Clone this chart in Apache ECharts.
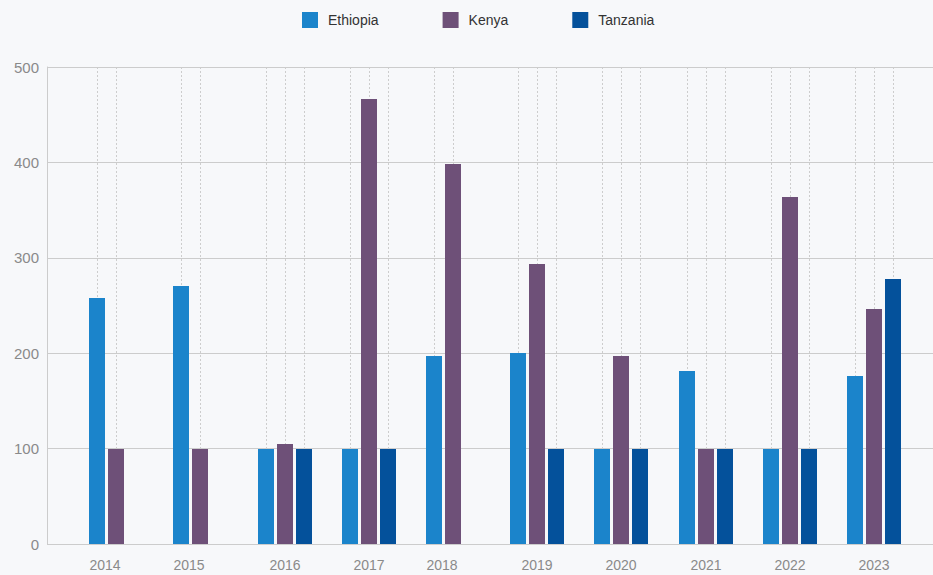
<!DOCTYPE html>
<html>
<head>
<meta charset="utf-8">
<script src="https://cdn.jsdelivr.net/npm/echarts@6/dist/echarts.min.js"></script>
<style>
  html, body { margin: 0; padding: 0; background: #f7f8fa; }
  #chart { width: 933px; height: 575px; }
</style>
</head>
<body>
<div id="chart"></div>
<script>
const years = ['2014', '2015', '2016', '2017', '2018', '2019', '2020', '2021', '2022', '2023'];
const seriesNames = ['Ethiopia', 'Kenya', 'Tanzania'];
const ethiopia = [258, 270, 100, 100, 197, 200, 100, 181, 100, 176];
const kenya = [100, 100, 105, 466, 398, 293, 197, 100, 364, 246];
const tanzania = [null, null, 100, 100, null, 100, 100, 100, 100, 278];
const yTicks = [0, 100, 200, 300, 400, 500];

const colors = ['#1b84cb', '#6e5078', '#04519b'];
const allValues = [ethiopia, kenya, tanzania];

const BAR_W = 16, BAR_PITCH = 19;
const FONT = '"Liberation Sans", Arial, Helvetica, sans-serif';

function barSeries(name, values, slot) {
  const data = [];
  values.forEach((v, i) => { if (v !== null) data.push([i, v]); });
  return {
    name: name,
    type: 'custom',
    itemStyle: { color: colors[slot] },
    data: data,
    encode: { x: 0, y: 1 },
    renderItem: function (params, api) {
      const i = api.value(0), v = api.value(1);
      const top = api.coord([i, v]);
      const base = api.coord([i, 0]);
      const plotTop = params.coordSys.y;
      const x0 = Math.round(base[0]) + slot * BAR_PITCH;
      const yTop = Math.round(top[1]);
      const yBase = Math.round(base[1]);
      return {
        type: 'group',
        children: [
          {
            type: 'line', silent: true,
            shape: { x1: x0 + 8.5, y1: plotTop, x2: x0 + 8.5, y2: yTop },
            style: { stroke: '#cdcdcd', lineWidth: 1, lineDash: [2, 2] }
          },
          {
            type: 'rect',
            shape: { x: x0, y: yTop, width: BAR_W, height: yBase - yTop },
            style: { fill: colors[slot] }
          }
        ]
      };
    }
  };
}

const labelData = years.map((y, i) => [i, allValues.filter(a => a[i] !== null).length]);

const chart = echarts.init(document.getElementById('chart'), null, { renderer: 'svg' });
chart.setOption({
  backgroundColor: '#f7f8fa',
  animation: false,
  legend: {
    data: seriesNames,
    left: 302,
    top: 12,
    padding: 0,
    icon: 'rect',
    itemWidth: 16,
    itemHeight: 16,
    itemGap: 64,
    textStyle: { color: '#333', fontSize: 14, fontFamily: FONT, padding: [0, 0, 0, 5] }
  },
  grid: { left: 47, right: 0, top: 67, bottom: 31, containLabel: false },
  xAxis: {
    type: 'value',
    min: -0.5,
    max: 10.02,
    show: false
  },
  yAxis: {
    type: 'value',
    min: yTicks[0],
    max: yTicks[yTicks.length - 1],
    interval: 100,
    axisLine: { show: true, onZero: false, lineStyle: { color: '#cccccc', width: 1 } },
    axisTick: { show: false },
    axisLabel: { color: '#8a8a8a', fontSize: 15, fontFamily: FONT, margin: 8 },
    splitLine: { lineStyle: { color: '#cccccc', width: 1 } }
  },
  series: [
    barSeries('Ethiopia', ethiopia, 0),
    barSeries('Kenya', kenya, 1),
    barSeries('Tanzania', tanzania, 2),
    {
      name: 'labels',
      type: 'custom',
      silent: true,
      data: labelData,
      encode: { x: 0 },
      renderItem: function (params, api) {
        const i = api.value(0), n = api.value(1);
        const base = api.coord([i, 0]);
        const x = Math.round(base[0]) + BAR_W / 2 + BAR_PITCH * (n - 1) / 2 - (n === 2 ? 1.5 : 0);
        return {
          type: 'text',
          x: x,
          y: base[1] + 21,
          style: {
            text: years[i],
            fill: '#8a8a8a',
            font: '14px ' + FONT,
            align: 'center',
            verticalAlign: 'middle'
          }
        };
      }
    }
  ]
});
</script>
</body>
</html>
